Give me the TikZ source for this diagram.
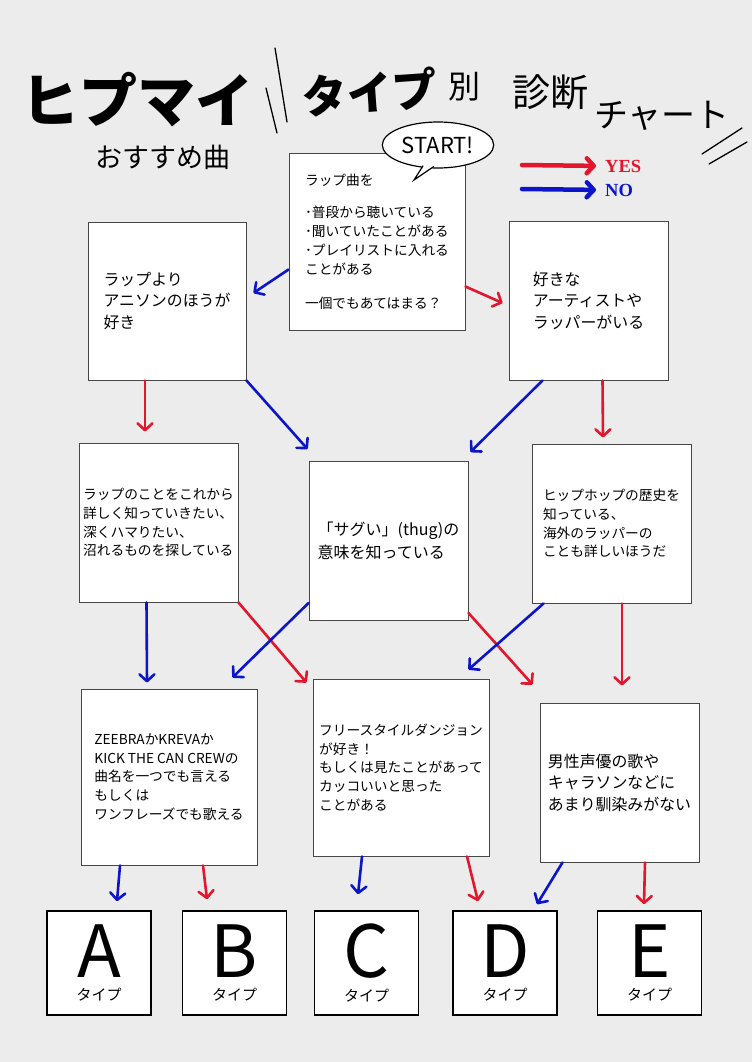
\documentclass[tikz,border=0pt]{standalone}
\usepackage{fontspec}
\setmainfont{Noto Sans CJK JP}
\newfontfamily\yesnofont{Liberation Serif}
\usetikzlibrary{arrows.meta,calc,shapes.geometric}
\definecolor{bgc}{RGB}{236,236,236}
\definecolor{yescol}{RGB}{226,22,44}
\definecolor{nocol}{RGB}{12,22,200}
\definecolor{edge}{RGB}{70,70,70}

\begin{document}
\begin{tikzpicture}[x=1pt,y=-1pt,
  qbox/.style={draw=edge,fill=white,line width=0.9pt,align=left,inner sep=0pt},
  sq/.style={qbox,minimum width=159pt,minimum height=159pt},
  wide/.style={qbox,minimum width=176pt,minimum height=177pt},
  small/.style={font=\fontsize{13.7}{18.8}\selectfont},
  big/.style={font=\fontsize{15.9}{21.5}\selectfont},
  tbox/.style={draw=black,fill=white,line width=1.6pt,minimum width=104pt,
               minimum height=104pt,align=center,inner sep=0pt},
  arr/.style={line width=2.6pt,line cap=round,
              -{Straight Barb[length=7pt,width=15pt,round]}},
  yesarr/.style={arr,draw=yescol},
  noarr/.style={arr,draw=nocol},
  ttl/.style={inner sep=0pt},
  deco/.style={line width=1.3pt,line cap=round}
]
\path[use as bounding box,fill=bgc] (0,0) rectangle (752,1062);

% hand lettered title
\node[ttl,font=\bfseries\fontsize{58}{58}\selectfont] (hypmai) at (137,100) {ヒプマイ};
\node[ttl,rotate=4,font=\bfseries\fontsize{45}{45}\selectfont] (taipu) at (370,92) {タイプ};
\node[ttl,font=\fontsize{32}{32}\selectfont] (betsu) at (464,87) {別};
\node[ttl,font=\fontsize{38}{38}\selectfont] (shindan) at (550,92) {診断};
\node[ttl,font=\fontsize{34}{34}\selectfont] (chart) at (662,116) {チャート};
\node[ttl,font=\fontsize{27}{27}\selectfont] (osusume) at (163,157) {おすすめ曲};
\draw[deco] (275,48) -- (287,122);
\draw[deco] (266,88) -- (277,133);
\draw[deco] (742,128) -- (702,154);
\draw[deco] (747,142) -- (709,164);

% legend
\coordinate (yestail) at (522,165);
\coordinate (notail) at (522,189);
\node[ttl,anchor=west,text=yescol,font=\yesnofont\bfseries\fontsize{18.5}{18.5}\selectfont] (yes) at (605,166) {YES};
\node[ttl,anchor=west,text=nocol,font=\yesnofont\bfseries\fontsize{18.5}{18.5}\selectfont] (no) at (605,190) {NO};
\draw[yesarr,line width=4.5pt,shorten >=9pt] (yestail) -- (yes.west);
\draw[noarr,line width=4.5pt,shorten >=9pt] (notail) -- (no.west);

% questions
\node[wide,small] (start) at (377,241.5) {ラップ曲を\\[14pt]･普段から聴いている\\･聞いていたことがある\\･プレイリストに入れる\\ことがある\\[15pt]一個でもあてはまる？};
\node[ellipse,draw,fill=white,line width=1.2pt,minimum width=110pt,minimum height=46pt,
      font=\fontsize{22}{22}\selectfont] (startbub) at (438,145) {START!};
\coordinate (bubtip) at (414,180);
\draw[line width=1.2pt,fill=white] ($(startbub.235)+(1,-2)$) -- (bubtip) -- ($(startbub.262)+(-1,-2)$);

\node[sq,big,minimum width=158pt,minimum height=158pt] (anison) at (167,301) {ラップより\\アニソンのほうが\\好き};
\node[sq,big] (artist) at (588.5,300.5) {好きな\\アーティストや\\ラッパーがいる};

\node[sq,small] (learn) at (158.5,522.5) {ラップのことをこれから\\詳しく知っていきたい、\\深くハマりたい、\\沼れるものを探している};
\node[sq,font=\fontsize{16}{23}\selectfont] (thug) at (388.5,541) {「サグい」(thug)の\\意味を知っている};
\node[sq,small] (history) at (611.5,523.5) {ヒップホップの歴史を\\知っている、\\海外のラッパーの\\ことも詳しいほうだ};

\node[wide,small,minimum height=176pt] (zeebra) at (169,777) {ZEEBRAかKREVAか\\KICK THE CAN CREWの\\曲名を一つでも言える\\もしくは\\ワンフレーズでも歌える};
\node[wide,small] (freestyle) at (401,767.5) {フリースタイルダンジョン\\が好き！\\もしくは見たことがあって\\カッコいいと思った\\ことがある};
\node[sq,big] (male) at (619.5,782.5) {男性声優の歌や\\キャラソンなどに\\あまり馴染みがない};

% results
\node[tbox] (typeA) at (99,963) {\fontsize{72}{72}\selectfont A\\[9pt]\fontsize{15}{15}\selectfont タイプ};
\node[tbox] (typeB) at (234.5,963) {\fontsize{72}{72}\selectfont B\\[9pt]\fontsize{15}{15}\selectfont タイプ};
\node[tbox] (typeC) at (366.5,963) {\fontsize{72}{72}\selectfont C\\[9pt]\fontsize{15}{15}\selectfont タイプ};
\node[tbox] (typeD) at (505,963) {\fontsize{72}{72}\selectfont D\\[9pt]\fontsize{15}{15}\selectfont タイプ};
\node[tbox] (typeE) at (649.5,963) {\fontsize{72}{72}\selectfont E\\[9pt]\fontsize{15}{15}\selectfont タイプ};

% yes / no arrows
\draw[noarr]  ($(start.west)+(0,28)$) -- ($(anison.east)+(7,-8)$);
\draw[yesarr] ($(start.east)+(0,45)$) -- ($(artist.west)+(-6,2.5)$);
\draw[yesarr] ($(anison.south)+(-22,0)$) -- ($(learn.north)+(-13.5,-11)$);
\draw[noarr]  (anison.south east) -- ($(thug.north west)+(-1,-12)$);
\draw[noarr]  ($(artist.south)+(-46,0)$) -- ($(thug.north east)+(2,-9)$);
\draw[yesarr] ($(artist.south)+(14,0)$) -- ($(history.north)+(-8.5,-6)$);
\draw[noarr]  ($(learn.south)+(-12,0)$) -- ($(zeebra.north)+(-22,-6)$);
\draw[yesarr] (learn.south east) -- ($(freestyle.north west)+(-6,4)$);
\draw[noarr]  ($(thug.south west)+(0,-18)$) -- ($(zeebra.north east)+(-25,-11)$);
\draw[yesarr] ($(thug.south east)+(0,-8)$) -- ($(male.north west)+(-7,-18)$);
\draw[noarr]  ($(history.south west)+(12,0)$) -- ($(freestyle.north east)+(-21,-9)$);
\draw[yesarr] ($(history.south)+(10.5,0)$) -- ($(male.north)+(2.5,-17)$);
\draw[noarr]  ($(zeebra.south)+(-49,0)$) -- ($(typeA.north)+(18,-9)$);
\draw[yesarr] ($(zeebra.south)+(34,0)$) -- ($(typeB.north)+(-27.5,-11)$);
\draw[noarr]  ($(freestyle.south)+(-39,0)$) -- ($(typeC.north)+(-8.5,-16)$);
\draw[yesarr] ($(freestyle.south)+(66,0)$) -- ($(typeD.north)+(-27,-9)$);
\draw[noarr]  ($(male.south)+(-57,0)$) -- ($(typeD.north)+(32,-6)$);
\draw[yesarr] ($(male.south)+(25.5,0)$) -- ($(typeE.north)+(-5.5,-6)$);
\end{tikzpicture}
\end{document}
